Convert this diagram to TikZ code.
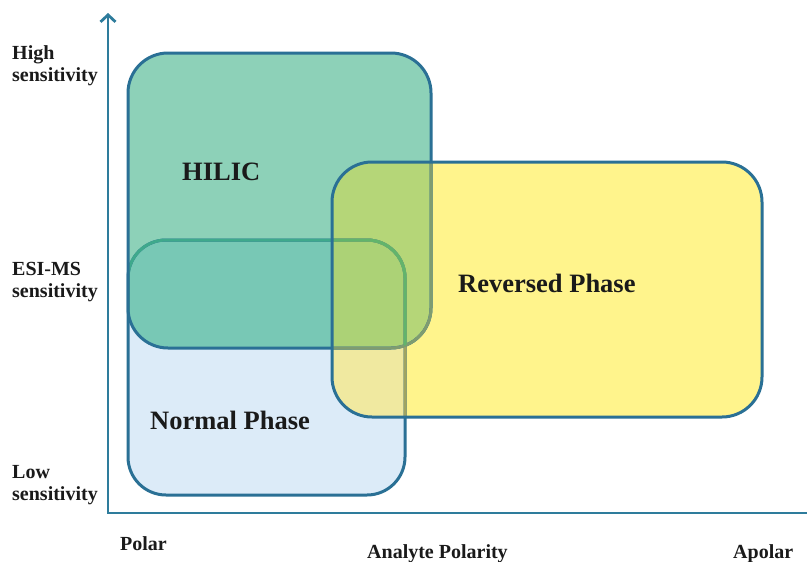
\documentclass[tikz,border=0pt]{standalone}
\usepackage{fontspec}
\setmainfont{Liberation Serif}
\usetikzlibrary{arrows.meta}
\definecolor{edgeblue}{HTML}{2A7095}
\definecolor{axisblue}{HTML}{2E7C9C}
\definecolor{npfill}{HTML}{DCEBF8}
\definecolor{hfill}{HTML}{8DD1B8}
\definecolor{hnfill}{HTML}{78C8B5}
\definecolor{rpfill}{HTML}{FFF48C}
\definecolor{rhfill}{HTML}{B5D678}
\definecolor{rnfill}{HTML}{F0E9A0}
\definecolor{rhnfill}{HTML}{ACD276}
\definecolor{npinh}{HTML}{3FA98C}
\definecolor{npinrh}{HTML}{62B46C}
\definecolor{npinr}{HTML}{A0A462}
\definecolor{hinr}{HTML}{7F9C70}
\definecolor{textcol}{HTML}{1A1A1A}
\begin{document}
\begin{tikzpicture}[x=1pt,y=-1pt,
  boxline/.style={line width=3pt},
  axisline/.style={line width=2.8pt, axisblue},
  axislabel/.style={font=\fontsize{20}{22}\selectfont\bfseries, text=textcol, inner sep=0pt, anchor=north west, align=left},
  axisbase/.style={font=\fontsize{20}{22}\selectfont\bfseries, text=textcol, inner sep=0pt, anchor=base west},
  phaselabel/.style={font=\fontsize{26.5}{30}\selectfont\bfseries, text=textcol, inner sep=0pt, anchor=base west},
  hr/.style={rounded corners=40pt},
  nr/.style={rounded corners=38pt},
  rr/.style={rounded corners=40pt}
]
\useasboundingbox (0,0) rectangle (807,562);
\fill[white] (0,0) rectangle (807,562);

% ---- region fills ----
\fill[npfill, nr] (128,240) rectangle (405,495);
\fill[hfill, hr] (128,53) rectangle (431,348);
\begin{scope}
  \clip[hr] (128,53) rectangle (431,348);
  \fill[hnfill, nr] (128,240) rectangle (405,495);
\end{scope}
\fill[rpfill, rr] (332,162) rectangle (762,417);
\begin{scope}
  \clip[rr] (332,162) rectangle (762,417);
  \fill[rnfill, nr] (128,240) rectangle (405,495);
  \fill[rhfill, hr] (128,53) rectangle (431,348);
  \clip[hr] (128,53) rectangle (431,348);
  \fill[rhnfill, nr] (128,240) rectangle (405,495);
\end{scope}

% ---- borders ----
\draw[boxline, edgeblue, nr] (128,240) rectangle (405,495);
\begin{scope}
  \clip[hr] (128,53) rectangle (431,348);
  \draw[boxline, npinh, nr] (128,240) rectangle (405,495);
\end{scope}
\draw[boxline, edgeblue, hr] (128,53) rectangle (431,348);
\begin{scope}
  \clip[rr] (332,162) rectangle (762,417);
  \draw[boxline, npinr, nr] (128,240) rectangle (405,495);
  \draw[boxline, hinr, hr] (128,53) rectangle (431,348);
  \clip[hr] (128,53) rectangle (431,348);
  \draw[boxline, npinrh, nr] (128,240) rectangle (405,495);
\end{scope}
\draw[boxline, edgeblue, rr] (332,162) rectangle (762,417);

% ---- axes ----
\coordinate (origin) at (108,513);
\coordinate (ytop) at (108,13);
\coordinate (xend) at (807,513);
\draw[axisline, -{Straight Barb[length=7pt,width=15pt]}] (xend) -- (origin) -- (ytop);

% ---- labels ----
\node[axislabel] (high) at (12,45) {High\\sensitivity};
\node[axislabel] (esi) at (12,262) {ESI-MS\\sensitivity};
\node[axislabel] (low) at (12,465) {Low\\sensitivity};
\node[axisbase] (polar) at (120,550) {Polar};
\node[axisbase] (analyte) at (367,558) {Analyte Polarity};
\node[axisbase] (apolar) at (733,558) {Apolar};

\node[phaselabel] (hilic) at (182,180) {HILIC};
\node[phaselabel] (rp) at (458,292) {Reversed Phase};
\node[phaselabel] (np) at (150,429) {Normal Phase};
\end{tikzpicture}
\end{document}
